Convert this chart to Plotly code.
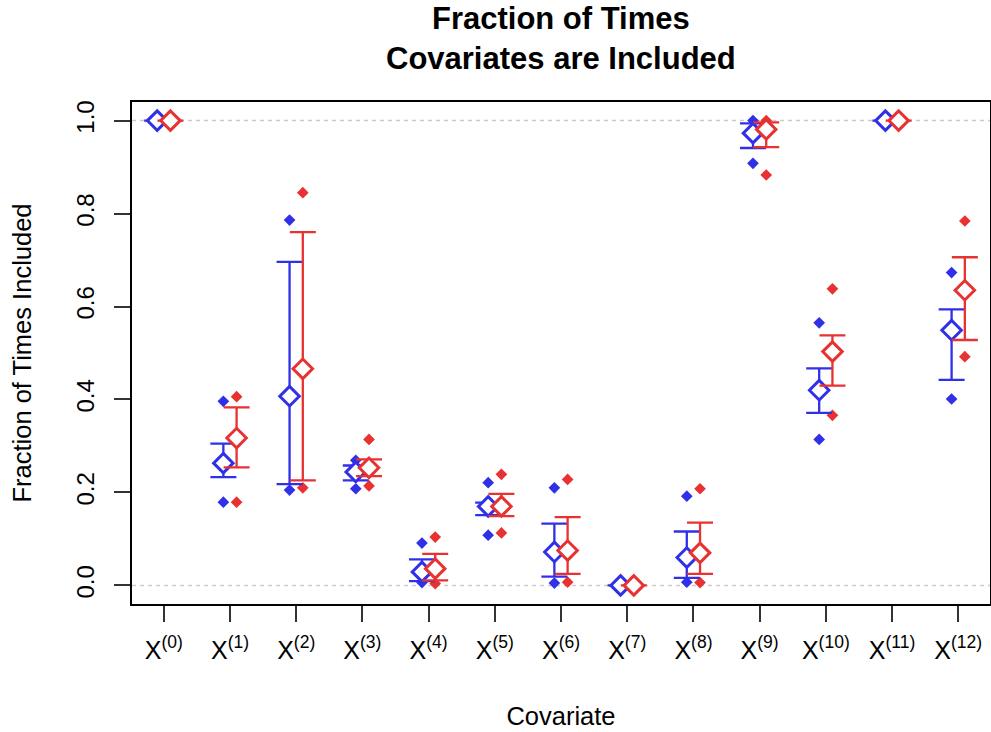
import plotly.graph_objects as go

labels = ["X<sup>(%d)</sup>" % i for i in range(13)]
positions = list(range(1, 14))

blue_mean = [1.0, 0.263, 0.407, 0.244, 0.029, 0.170, 0.072, 0.0, 0.060, 0.973, 0.420, 1.0, 0.549]
blue_lo   = [1.0, 0.233, 0.218, 0.226, 0.009, 0.151, 0.019, 0.0, 0.016, 0.941, 0.371, 1.0, 0.442]
blue_hi   = [1.0, 0.305, 0.696, 0.258, 0.056, 0.178, 0.133, 0.0, 0.116, 0.994, 0.467, 1.0, 0.594]
blue_min  = [1.0, 0.179, 0.205, 0.208, 0.006, 0.108, 0.005, 0.0, 0.007, 0.908, 0.314, 1.0, 0.401]
blue_max  = [1.0, 0.396, 0.786, 0.269, 0.091, 0.221, 0.210, 0.0, 0.192, 1.0, 0.565, 1.0, 0.673]

red_mean = [1.0, 0.317, 0.466, 0.253, 0.036, 0.170, 0.075, 0.0, 0.070, 0.981, 0.503, 1.0, 0.635]
red_lo   = [1.0, 0.254, 0.226, 0.235, 0.011, 0.149, 0.025, 0.0, 0.025, 0.943, 0.430, 1.0, 0.528]
red_hi   = [1.0, 0.383, 0.760, 0.271, 0.068, 0.197, 0.147, 0.0, 0.135, 0.996, 0.538, 1.0, 0.706]
red_min  = [1.0, 0.179, 0.210, 0.214, 0.004, 0.113, 0.007, 0.0, 0.006, 0.883, 0.366, 1.0, 0.492]
red_max  = [1.0, 0.406, 0.845, 0.314, 0.104, 0.239, 0.228, 0.0, 0.208, 1.0, 0.638, 1.0, 0.784]

BLUE = "rgb(48,48,232)"
RED = "rgb(232,50,50)"
FONT = "Liberation Sans, Arial, sans-serif"

fig = go.Figure()

def add_extremes(mn, mx, color, offset):
    xs = [p + offset for p in positions]
    fig.add_trace(go.Scatter(
        x=xs + xs, y=mn + mx, mode="markers",
        marker=dict(symbol="diamond", size=9, color=color, line=dict(width=0)),
        showlegend=False, hoverinfo="skip"))

def add_main(mean, lo, hi, color, offset):
    xs = [p + offset for p in positions]
    fig.add_trace(go.Scatter(
        x=xs, y=mean, mode="markers",
        marker=dict(symbol="diamond", size=15, color="white",
                    line=dict(color=color, width=3)),
        error_y=dict(type="data", symmetric=False,
                     array=[h - m for h, m in zip(hi, mean)],
                     arrayminus=[m - l for m, l in zip(mean, lo)],
                     color=color, thickness=2.3, width=13),
        showlegend=False))

add_extremes(blue_min, blue_max, BLUE, -0.1)
add_extremes(red_min, red_max, RED, 0.1)
add_main(blue_mean, blue_lo, blue_hi, BLUE, -0.1)
add_main(red_mean, red_lo, red_hi, RED, 0.1)

for yv in (0.0, 1.0):
    fig.add_shape(type="line", xref="paper", yref="y", x0=0, x1=1, y0=yv, y1=yv,
                  line=dict(color="#cccccc", width=1.5, dash="4px,4px"), layer="below")

PLOT_H = 732 - 102 - 128
fig.add_annotation(
    text="<b>Fraction of Times<br>Covariates are Included</b>",
    xref="paper", yref="paper", x=0.5, y=1 + 103 / PLOT_H,
    xanchor="center", yanchor="top", showarrow=False,
    font=dict(size=31, family=FONT, color="black"))

fig.update_layout(
    width=991, height=732,
    margin=dict(l=132, r=1, t=102, b=128, autoexpand=False),
    paper_bgcolor="white", plot_bgcolor="white",
    font=dict(family=FONT, color="black"),
)
fig.update_xaxes(
    range=[0.52, 13.48], tickvals=positions, ticktext=labels,
    automargin=False,
    showgrid=False, zeroline=False,
    showline=True, mirror=True, linecolor="black", linewidth=1.5,
    ticks="outside", ticklen=16, tickwidth=1.5, tickcolor="#333333",
    tickfont=dict(size=25), ticklabelstandoff=7,
    title=dict(text="Covariate", font=dict(size=25.5), standoff=44),
)
fig.update_yaxes(
    range=[-0.04, 1.04], tickvals=[0, 0.2, 0.4, 0.6, 0.8, 1.0],
    ticktext=["0.0", "0.2", "0.4", "0.6", "0.8", "1.0"],
    tickangle=-90, automargin=False,
    showgrid=False, zeroline=False,
    showline=True, mirror=True, linecolor="black", linewidth=1.5,
    ticks="outside", ticklen=16, tickwidth=1.5, tickcolor="#333333",
    tickfont=dict(size=24), ticklabelstandoff=11,
    title=dict(text="Fraction of Times Included", font=dict(size=25.5), standoff=33),
)

fig.write_html("out.html",
               config={"displayModeBar": False},
               post_script="document.body.style.margin='0';document.body.style.overflow='hidden';")
